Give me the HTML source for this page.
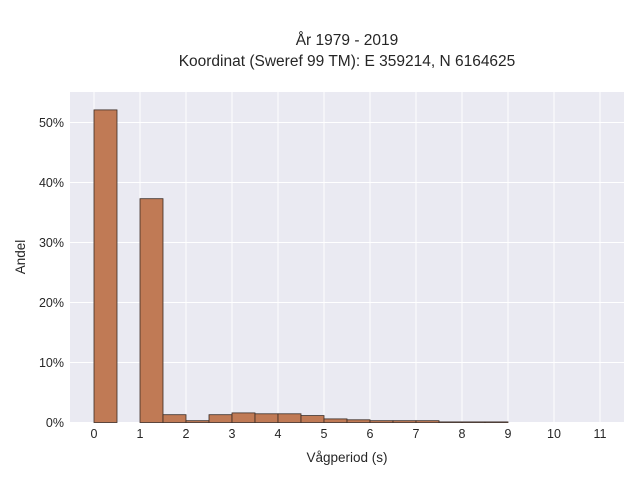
<!DOCTYPE html>
<html><head><meta charset="utf-8"><style>
body{margin:0;background:#fff;font-family:"Liberation Sans",sans-serif;}
svg text{font-family:"Liberation Sans",sans-serif;fill:#262626;}
</style></head><body>
<svg id="chart" width="640" height="480" viewBox="0 0 640 480">
<text x="347" y="45" text-anchor="middle" font-size="15.5">År 1979 - 2019</text>
<text x="347" y="66" text-anchor="middle" font-size="15.5">Koordinat (Sweref 99 TM): E 359214, N 6164625</text>
<rect x="70" y="92" width="554" height="331" fill="#eaeaf2"/>
<g id="grid"></g><g id="bars"></g><g id="ticks"></g>
<text x="347" y="462" text-anchor="middle" font-size="13.5">Vågperiod (s)</text>
<text transform="translate(25,257) rotate(-90)" text-anchor="middle" font-size="13.5">Andel</text>
</svg>
<script>
const binStarts=[0,0.5,1,1.5,2,2.5,3,3.5,4,4.5,5,5.5,6,6.5,7,7.5,8,8.5];
const shares=[52.1,0,37.3,1.3,0.3,1.3,1.6,1.45,1.45,1.15,0.6,0.45,0.3,0.3,0.3,0.1,0.1,0.1];
const xTicks=[0,1,2,3,4,5,6,7,8,9,10,11];
const yTicks=[0,10,20,30,40,50];
const binWidth=0.5;
const NS="http://www.w3.org/2000/svg";
const x=v=>94+v*46, y=v=>422.5-v*6;
const g=document.getElementById('grid'),b=document.getElementById('bars'),t=document.getElementById('ticks');
function mk(tag,a,p){const e=document.createElementNS(NS,tag);for(const k in a)e.setAttribute(k,a[k]);p.appendChild(e);return e;}
xTicks.forEach(v=>{
 const l=mk('line',{x1:x(v),x2:x(v),y1:92,y2:423,stroke:'#fff','stroke-width':1},g);
 
 
 const tx=mk('text',{x:x(v),y:438,'text-anchor':'middle','font-size':12.5},t);tx.textContent=v;
 
 
});
yTicks.forEach(v=>{
 const l=mk('line',{x1:70,x2:624,y1:y(v),y2:y(v),stroke:'#fff','stroke-width':1},g);
 
 
 const tx=mk('text',{x:64,y:y(v)+4.5,'text-anchor':'end','font-size':12.5},t);tx.textContent=v+'%';
 
 
});
binStarts.forEach((s,i)=>{
 if(shares[i]<=0)return;
 const r=mk('rect',{x:x(s),y:y(shares[i]),width:x(s+binWidth)-x(s),height:y(0)-y(shares[i]),fill:'#c07a55',stroke:'#3a2a22','stroke-width':0.8},b);
 
 
});
</script>
</body></html>
